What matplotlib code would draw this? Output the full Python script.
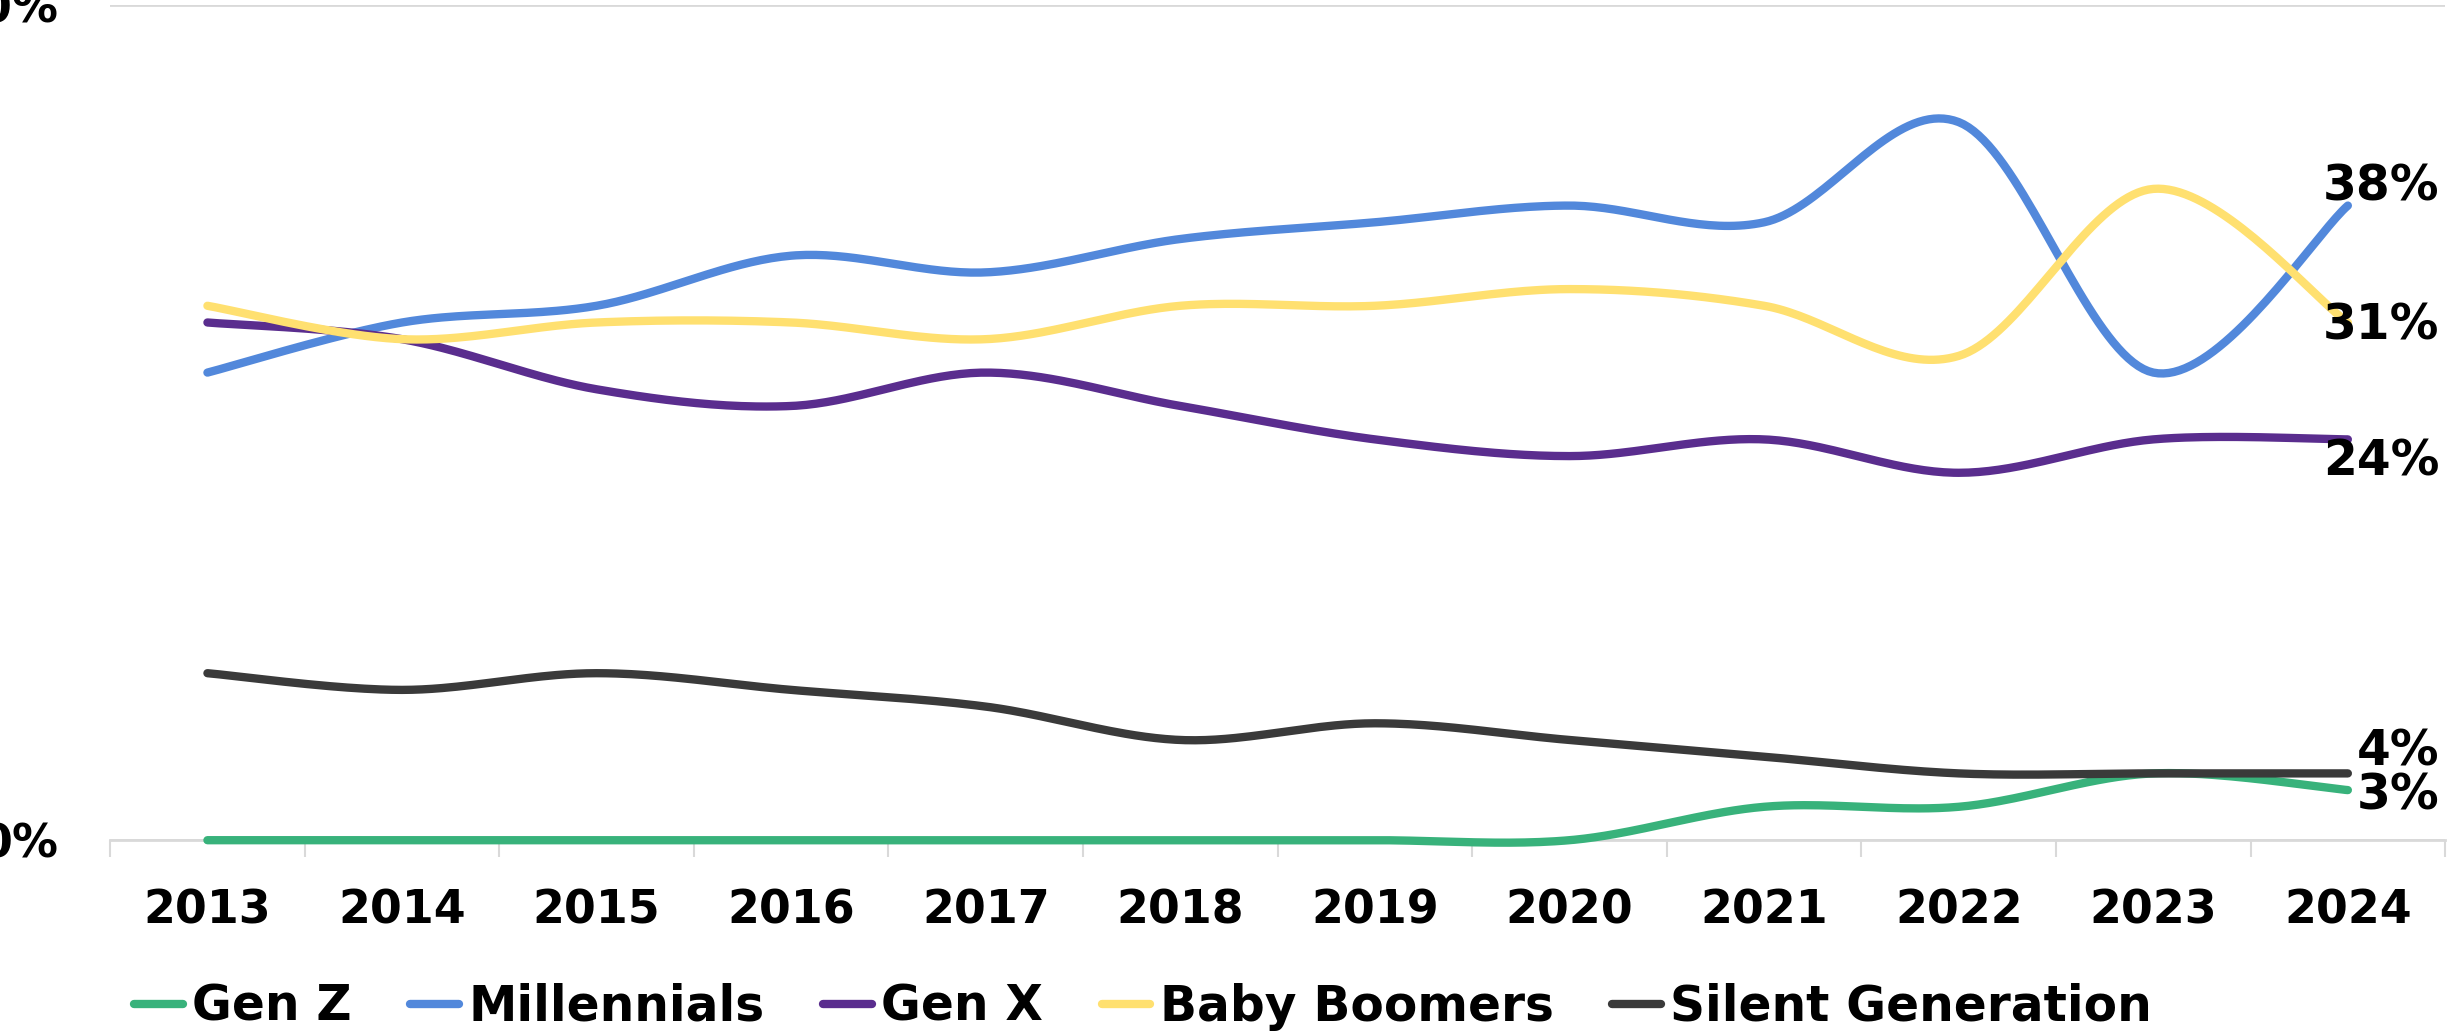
import numpy as np
import matplotlib
matplotlib.use('Agg')
import matplotlib.pyplot as plt
from matplotlib.ticker import FixedLocator, FuncFormatter

# Share by generation, percent
years = ['2013', '2014', '2015', '2016', '2017', '2018',
         '2019', '2020', '2021', '2022', '2023', '2024']
gen_z = [0, 0, 0, 0, 0, 0, 0, 0, 2, 2, 4, 3]
millennials = [28, 31, 32, 35, 34, 36, 37, 38, 37, 43, 28, 38]
gen_x = [31, 30, 27, 26, 28, 26, 24, 23, 24, 22, 24, 24]
baby_boomers = [32, 30, 31, 31, 30, 32, 32, 33, 32, 29, 39, 31]
silent = [10, 9, 10, 9, 8, 6, 7, 6, 5, 4, 4, 4]

series_names = ['Gen Z', 'Millennials', 'Gen X', 'Baby Boomers', 'Silent Generation']
series_values = [gen_z, millennials, gen_x, baby_boomers, silent]
colors = ['#38B27B', '#5288DB', '#5A2D8E', '#FFE070', '#3A3A3A']

# end labels: (text offset in points dx, dy)
end_offsets = [(66, -4), (66, 14), (66, -16), (66, -2), (66, 16)]


def smooth_curve(xs, ys, steps=40):
    """Excel-like smoothed line: cubic bezier through every point."""
    xs = np.asarray(xs, dtype=float)
    ys = np.asarray(ys, dtype=float)
    n = len(xs)
    out_x, out_y = [], []
    t = np.linspace(0, 1, steps)
    for i in range(n - 1):
        p0 = np.array([xs[i], ys[i]])
        p1 = np.array([xs[i + 1], ys[i + 1]])
        pm = np.array([xs[max(i - 1, 0)], ys[max(i - 1, 0)]])
        pp = np.array([xs[min(i + 2, n - 1)], ys[min(i + 2, n - 1)]])
        c1 = p0 + (p1 - pm) / 6.0
        c2 = p1 - (pp - p0) / 6.0
        b = ((1 - t) ** 3)[:, None] * p0 + (3 * (1 - t) ** 2 * t)[:, None] * c1 \
            + (3 * (1 - t) * t ** 2)[:, None] * c2 + (t ** 3)[:, None] * p1
        if i > 0:
            b = b[1:]
        out_x.extend(b[:, 0])
        out_y.extend(b[:, 1])
    return np.array(out_x), np.array(out_y)


plt.rcParams['font.family'] = ['DejaVu Sans']
plt.rcParams['font.weight'] = 'bold'

fig = plt.figure(figsize=(24.53, 10.36), dpi=100)
ax = fig.add_axes([0.0449, 0.189, 0.9519, 0.806])

x = np.arange(len(years))
for name, vals, col in zip(series_names, series_values, colors):
    sx, sy = smooth_curve(x, vals)
    ax.plot(sx, sy, color=col, lw=6, solid_capstyle='round', label=name,
            clip_on=False, zorder=3)

for vals, (dx, dy) in zip(series_values, end_offsets):
    ax.annotate(f'{vals[-1]}%', xy=(x[-1], vals[-1]), xytext=(dx, dy),
                textcoords='offset points', ha='right', va='center',
                fontsize=35, fontweight='bold', color='black', zorder=4)

ax.set_xlim(-0.5, len(years) - 0.5)
ax.set_ylim(0, 50)

# y axis: only 0% and 50%
ax.set_yticks([0, 50])
ax.yaxis.set_major_formatter(FuncFormatter(lambda v, p: f'{int(v)}%'))
ax.tick_params(axis='y', length=0, pad=37, labelsize=33)
ax.grid(axis='y', color='#D9D9D9', lw=2, zorder=0)

# x axis: labels centered, tick marks between categories
ax.set_xticks(x)
ax.set_xticklabels(years)
ax.xaxis.set_minor_locator(FixedLocator(np.arange(-0.5, len(years), 1.0)))
ax.tick_params(axis='x', which='major', length=0, pad=35, labelsize=33)
ax.tick_params(axis='x', which='minor', length=12, width=1.5, color='#D9D9D9')

for side in ['top', 'right', 'left']:
    ax.spines[side].set_visible(False)
ax.spines['bottom'].set_color('#D9D9D9')
ax.spines['bottom'].set_linewidth(2)

fig.legend(loc='center', bbox_to_anchor=(0.466, 0.028), ncol=5, frameon=False,
           handlelength=1.0, handletextpad=0.2, columnspacing=1.2,
           prop={'weight': 'bold', 'size': 35})

fig.savefig('out.png', dpi=100, facecolor='white')
